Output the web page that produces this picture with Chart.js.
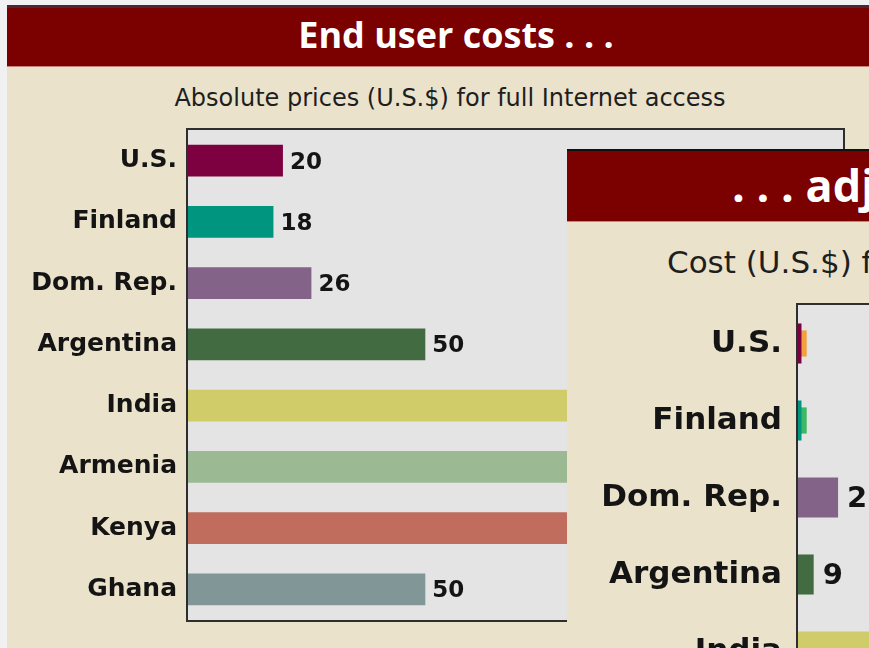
<!DOCTYPE html>
<html>
<head>
<meta charset="utf-8">
<script src="https://cdn.jsdelivr.net/npm/chart.js@4.4.1/dist/chart.umd.min.js"></script>
<style>
  html, body { margin: 0; padding: 0; width: 869px; height: 648px; overflow: hidden; background: #f1f0f2; font-family: "DejaVu Sans", sans-serif; }
  .panel { position: absolute; background: #ebe2cb; overflow: hidden; }
  .head { position: absolute; left: 0; background: #7b0000; color: #fff; font-family: "Open Sans", sans-serif; font-weight: bold; white-space: nowrap; border-bottom: 1px solid #c4857c; }
  .sub { position: absolute; white-space: nowrap; color: #1e1e1e; }
  canvas { position: absolute; }

  #p1 { left: 7px; top: 5px; width: 898px; height: 660px; }
  #p1 .head { top: 0; width: 898px; height: 58px; line-height: 54px; border-top: 3px solid #4b2634; font-size: 36px; text-align: center; }
  #p1 .sub { top: 79px; left: 0; width: 886px; text-align: center; font-size: 24px; line-height: 28px; }
  #c1 { left: 0; top: 115px; }

  #p2 { left: 567px; top: 149px; width: 400px; height: 600px; border-top: 2px solid #111; }
  #p2 .head { top: 0; width: 400px; height: 71px; line-height: 68px; font-size: 45px; padding-left: 165px; box-sizing: border-box; }
  #p2 .sub { top: 93px; left: 100px; font-size: 31px; line-height: 36px; }
  #c2 { left: 0; top: 144px; }
</style>
</head>
<body>

<div class="panel" id="p1">
  <div class="head">End user costs . . .</div>
  <div class="sub">Absolute prices (U.S.$) for full Internet access</div>
  <canvas id="c1" width="862" height="528"></canvas>
</div>

<div class="panel" id="p2">
  <div class="head">. . . adjusted</div>
  <div class="sub">Cost (U.S.$) for full Internet access</div>
  <canvas id="c2" width="800" height="640"></canvas>
</div>

<script>
// ---------- DATA ----------
const countries = ['U.S.', 'Finland', 'Dom. Rep.', 'Argentina', 'India', 'Armenia', 'Kenya', 'Ghana'];
const barColors = ['#7d0040', '#00957f', '#836388', '#436b42', '#d0cc69', '#9bb992', '#c06d5e', '#809697'];

// left panel: absolute prices (India, Armenia, Kenya run off under the second panel)
const absPrices = [20, 18, 26, 50, 95, 110, 130, 50];
const absMax = 138;

// right panel: adjusted cost (only the top rows are visible)
const adjCost = [2, 2, 23, 9, 120, 150, 200, 180];
const adjOverlay = [5, 5, null, null, null, null, null, null];
const overlayColors = ['#f3a03e', '#3fb866', null, null, null, null, null, null];
const adjMax = 315;

Chart.defaults.font.family = '"DejaVu Sans", sans-serif';
Chart.defaults.color = '#141414';

// grey plot box with dark frame
const plotFrame = {
  id: 'plotFrame',
  beforeDatasetsDraw(chart) {
    const { ctx, chartArea: a } = chart;
    ctx.save();
    ctx.fillStyle = '#e4e4e4';
    ctx.fillRect(a.left, a.top, a.right - a.left, a.bottom - a.top);
    ctx.restore();
  },
  afterDatasetsDraw(chart) {
    const { ctx, chartArea: a } = chart;
    ctx.save();
    ctx.strokeStyle = '#2e2e2e';
    ctx.lineWidth = 2;
    ctx.strokeRect(a.left - 1, a.top - 1, a.right - a.left + 2, a.bottom - a.top + 2);
    ctx.restore();
  }
};

// numbers at the end of each bar
const valueLabels = {
  id: 'valueLabels',
  afterDatasetsDraw(chart, args, opts) {
    const { ctx } = chart;
    const meta = chart.getDatasetMeta(0);
    ctx.save();
    ctx.font = `bold ${opts.size}px "DejaVu Sans", sans-serif`;
    ctx.fillStyle = '#141414';
    ctx.textBaseline = 'middle';
    meta.data.forEach((bar, i) => {
      const txt = opts.labels[i];
      if (!txt) return;
      ctx.fillText(txt, bar.x + opts.gap, bar.y + opts.dy);
    });
    ctx.restore();
  }
};

function makeChart(id, cfg) {
  return new Chart(document.getElementById(id), {
    type: 'bar',
    data: { labels: countries, datasets: cfg.datasets },
    options: {
      indexAxis: 'y',
      responsive: false,
      animation: false,
      layout: { padding: cfg.padding },
      scales: {
        x: { display: false, min: 0, max: cfg.max },
        y: {
          grid: { display: false, drawTicks: false },
          border: { display: false },
          ticks: { font: { size: cfg.tickSize, weight: 'bold' }, color: '#141414', padding: cfg.tickPad },
          afterFit: (s) => { s.width = cfg.axisWidth; s.paddingTop = 0; s.paddingBottom = 0; }
        }
      },
      plugins: {
        legend: { display: false },
        tooltip: { enabled: false },
        valueLabels: { labels: cfg.labels, size: cfg.labelSize, gap: cfg.gap, dy: cfg.dy }
      }
    },
    plugins: [plotFrame, valueLabels]
  });
}

makeChart('c1', {
  datasets: [{ data: absPrices, backgroundColor: barColors, categoryPercentage: 1, barPercentage: 0.52 }],
  padding: { top: 10, right: 26, bottom: 28, left: 0 },
  max: absMax, tickSize: 25, tickPad: 11, axisWidth: 181,
  labels: absPrices.map(String), labelSize: 23, gap: 7, dy: 2
});

makeChart('c2', {
  datasets: [
    { data: adjCost, backgroundColor: barColors, categoryPercentage: 1, barPercentage: 0.52, grouped: false },
    { data: adjOverlay, backgroundColor: overlayColors, categoryPercentage: 1, barPercentage: 0.34, grouped: false }
  ],
  padding: { top: 10, right: 20, bottom: 14, left: 0 },
  max: adjMax, tickSize: 31, tickPad: 16, axisWidth: 231,
  labels: adjCost.map(v => v >= 5 ? String(v) : ''), labelSize: 29, gap: 9, dy: 2
});
</script>
</body>
</html>
